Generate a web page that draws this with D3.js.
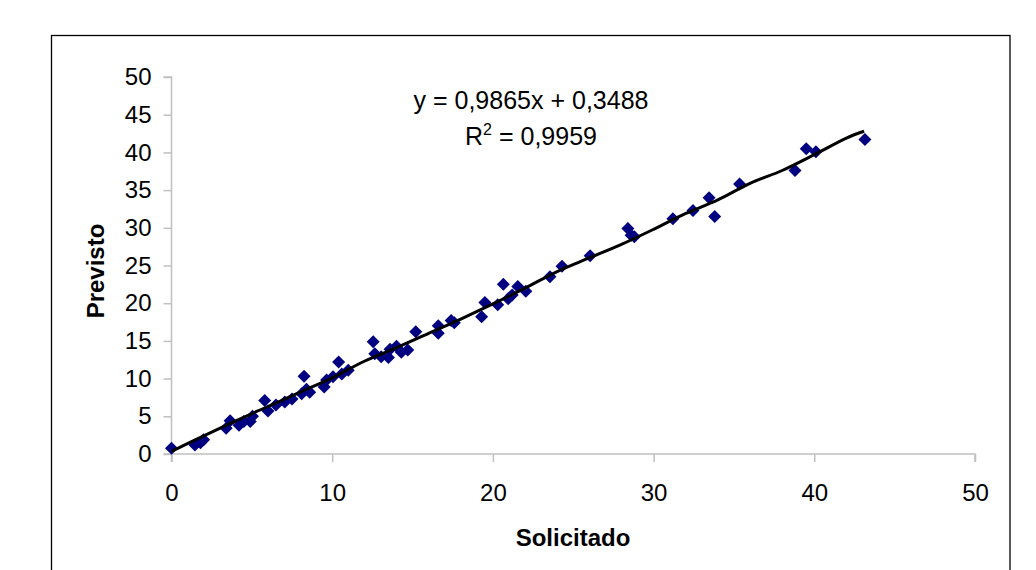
<!DOCTYPE html>
<html><head><meta charset="utf-8">
<script src="https://cdn.jsdelivr.net/npm/d3@7"></script>
<style>body{margin:0;background:#fff}svg{display:block}</style>
</head><body>
<script>
const solicitado = [0,1.46,1.8,2.0,3.4,3.65,4.2,4.5,4.9,5.04,5.8,6.0,6.5,7.05,7.5,8.1,8.25,8.4,8.6,9.5,9.65,10.05,10.4,10.6,11.0,12.55,12.65,13.05,13.5,13.6,14.0,14.3,14.7,15.2,16.6,16.6,17.4,17.6,19.3,19.5,20.3,20.65,20.95,21.2,21.55,22.05,23.55,24.3,26.05,28.4,28.6,28.8,31.2,32.45,33.45,33.8,35.35,38.8,39.5,40.1,43.15];
const previsto   = [0.76,1.2,1.5,1.9,3.4,4.4,3.8,4.3,4.3,5.0,7.1,5.7,6.5,6.9,7.3,8.0,10.3,8.6,8.2,8.9,9.8,10.25,12.2,10.6,11.1,14.9,13.3,12.9,12.8,13.9,14.3,13.5,13.8,16.2,17.0,16.0,17.7,17.4,18.2,20.1,19.8,22.5,20.6,21.1,22.2,21.6,23.5,24.9,26.3,29.9,29.0,28.8,31.2,32.3,34.0,31.5,35.8,37.6,40.5,40.1,41.7];
const lineX = [0,2,4,6,8,10,12,14,16,18,20,22,24,26,28,30,32,34,36,38,40,42,43.1];
const lineY = [0.35,2.4,4.4,6.3,8.2,10.1,12.3,14.1,16.0,17.9,19.9,22.0,24.2,26.0,27.8,29.8,31.9,33.7,35.9,37.6,39.7,41.9,42.8];
const xTicks = [0,10,20,30,40,50];
const yTicks = [0,5,10,15,20,25,30,35,40,45,50];
const equationText = "y = 0,9865x + 0,3488";
const r2Label = "R";
const r2Value = " = 0,9959";
const xTitle = "Solicitado";
const yTitle = "Previsto";

const W = 1036, H = 570;
const FONT = "'Liberation Sans', Arial, sans-serif";
const svg = d3.select("body").append("svg").attr("width", W).attr("height", H)
  .style("font-family", FONT);

svg.append("rect").attr("x", 51.5).attr("y", 35.5).attr("width", 958.5).attr("height", 560)
  .attr("fill", "#fff").attr("stroke", "#000").attr("stroke-width", 1.3);

const x = d3.scaleLinear().domain([0, 50]).range([171.5, 975]);
const y = d3.scaleLinear().domain([0, 50]).range([454, 77]);

const axisColor = "#c0c0c0";
const gx = svg.append("g").attr("transform", "translate(0,454)")
  .call(d3.axisBottom(x).tickValues(xTicks).tickSize(8).tickPadding(22).tickFormat(d3.format("d")));
const gy = svg.append("g").attr("transform", "translate(171.5,0)")
  .call(d3.axisLeft(y).tickValues(yTicks).tickSize(8).tickPadding(12).tickFormat(d3.format("d")));
[gx, gy].forEach(g => {
  g.select(".domain").attr("stroke", axisColor).attr("stroke-width", 1.5);
  g.selectAll(".tick line").attr("stroke", axisColor).attr("stroke-width", 1.5);
  g.selectAll(".tick text").attr("fill", "#000").style("font-size", "24px")
    .style("font-family", FONT);
});
gx.select(".domain").attr("d", `M${x(0)},8V0H${x(50)}V8`);
gy.select(".domain").attr("d", `M-8,${y(0)}H0V${y(50)}H-8`);

const diamond = "M0,-6.5L6.5,0L0,6.5L-6.5,0Z";
svg.append("g").selectAll("path").data(solicitado).join("path")
  .attr("d", diamond)
  .attr("transform", (d, i) => `translate(${x(d)},${y(previsto[i])})`)
  .attr("fill", "#000080");

const lineData = lineX.map((d, i) => [d, lineY[i]]);
svg.append("path").datum(lineData)
  .attr("d", d3.line().x(d => x(d[0])).y(d => y(d[1])).curve(d3.curveCatmullRom))
  .attr("fill", "none").attr("stroke", "#000").attr("stroke-width", 3);

svg.append("text").attr("x", 531).attr("y", 109).attr("text-anchor", "middle")
  .style("font-size", "25px").text(equationText);
const r2 = svg.append("text").attr("x", 531).attr("y", 145).attr("text-anchor", "middle")
  .style("font-size", "25px");
r2.append("tspan").text(r2Label);
r2.append("tspan").attr("dy", -10).style("font-size", "16px").text("2");
r2.append("tspan").attr("dy", 10).text(r2Value);

svg.append("text").attr("x", 573).attr("y", 546).attr("text-anchor", "middle")
  .style("font-size", "24px").style("font-weight", "bold").text(xTitle);
svg.append("text").attr("transform", "translate(104,271) rotate(-90)").attr("text-anchor", "middle")
  .style("font-size", "24px").style("font-weight", "bold").text(yTitle);
</script>
</body></html>
